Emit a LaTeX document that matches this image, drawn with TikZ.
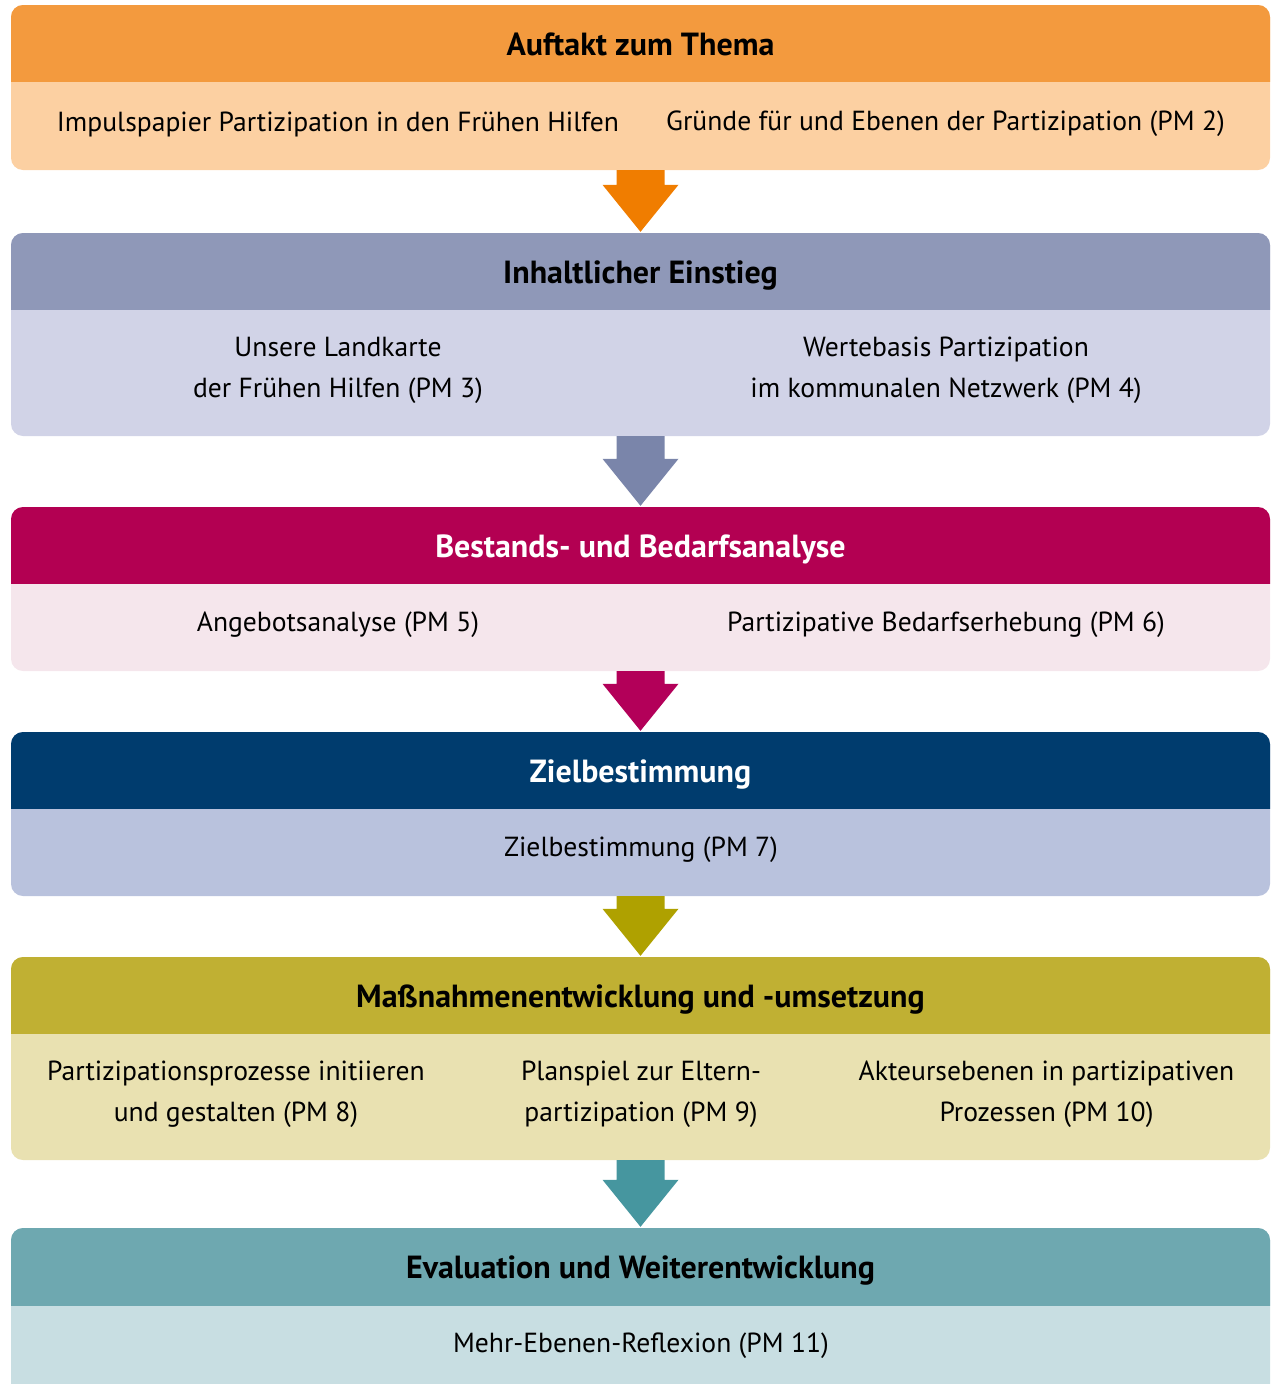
\documentclass[tikz,border=0pt]{standalone}
\usepackage{fontspec}
\setmainfont{PT Sans}
\usetikzlibrary{calc}
\definecolor{hA}{HTML}{F39A3E}\definecolor{bA}{HTML}{FCD0A2}\definecolor{aA}{HTML}{F07D00}
\definecolor{hB}{HTML}{8F98B8}\definecolor{bB}{HTML}{D1D3E7}\definecolor{aB}{HTML}{7A85AA}
\definecolor{hC}{HTML}{B30052}\definecolor{bC}{HTML}{F5E6EC}\definecolor{aC}{HTML}{B30059}
\definecolor{hD}{HTML}{003C6E}\definecolor{bD}{HTML}{B9C2DD}\definecolor{aD}{HTML}{AFA100}
\definecolor{hE}{HTML}{C0B033}\definecolor{bE}{HTML}{E9E1B1}\definecolor{aE}{HTML}{46969F}
\definecolor{hF}{HTML}{6EA8B0}\definecolor{bF}{HTML}{C8DEE2}
\tikzset{
  boxbody/.style={rectangle, rounded corners=12pt, inner sep=0pt, minimum width=1259pt},
  hdrtext/.style={font=\fontsize{32}{38}\selectfont\bfseries, inner sep=0pt, anchor=base},
  bodytext/.style={font=\fontsize{27.6}{41}\selectfont, align=center, inner sep=0pt, yshift=-3pt},
}
% #1 name, #2 top, #3 header bottom, #4 bottom, #5 header colour, #6 body colour, #7 title, #8 title colour
\newcommand{\stagebox}[8]{%
  \node[boxbody, fill=#6, minimum height={#4-#2}] (#1) at (640.5,{(#2+#4)/2}) {};
  \begin{scope}
    \clip (0,#2) rectangle (1271,#3);
    \fill[#5, rounded corners=12pt] (11,#2) rectangle (1270,#4);
  \end{scope}
  \node[hdrtext, text=#8] (#1h) at (640.5,{(#2+#3)/2+12}) {#7};
}
\newcommand{\stagearrow}[3]{%
  \fill[#3] let \p1=(#1.south), \p2=(#2.north) in
    (\x1-24pt,\y1) -- (\x1+24pt,\y1) -- (\x1+24pt,\y2+48pt) -- (\x1+38pt,\y2+48pt)
    -- (\x2,\y2+1pt) -- (\x1-38pt,\y2+48pt) -- (\x1-24pt,\y2+48pt) -- cycle;
}
\begin{document}
\begin{tikzpicture}[x=1pt,y=-1pt]
\useasboundingbox (0,0) rectangle (1271,1384);
\begin{scope}
\clip (0,0) rectangle (1271,1384);
\stagebox{s1}{5}{81}{170}{hA}{bA}{Auftakt zum Thema}{black}
\stagebox{s2}{233}{309}{436}{hB}{bB}{Inhaltlicher Einstieg}{black}
\stagebox{s3}{507}{583}{671}{hC}{bC}{Bestands- und Bedarfsanalyse}{white}
\stagebox{s4}{732}{808}{896}{hD}{bD}{Zielbestimmung}{white}
\stagebox{s5}{957}{1033}{1160}{hE}{bE}{Maßnahmenentwicklung und -umsetzung}{black}
\stagebox{s6}{1228}{1305}{1396}{hF}{bF}{Evaluation und Weiterentwicklung}{black}
\end{scope}

\node[bodytext] (t1a) at (338,121) {Impulspapier Partizipation in den Frühen Hilfen};
\node[bodytext] (t1b) at (945.5,121) {Gründe für und Ebenen der Partizipation (PM 2)};
\node[bodytext] (t2a) at (338,367.5) {Unsere Landkarte\\der Frühen Hilfen (PM 3)};
\node[bodytext] (t2b) at (946,367.5) {Wertebasis Partizipation\\im kommunalen Netzwerk (PM 4)};
\node[bodytext] (t3a) at (338,622) {Angebotsanalyse (PM 5)};
\node[bodytext] (t3b) at (946,622) {Partizipative Bedarfserhebung (PM 6)};
\node[bodytext] (t4) at (641,847) {Zielbestimmung (PM 7)};
\node[bodytext] (t5a) at (236,1091.5) {Partizipationsprozesse initiieren\\und gestalten (PM 8)};
\node[bodytext] (t5b) at (641,1091.5) {Planspiel zur Eltern-\\partizipation (PM 9)};
\node[bodytext] (t5c) at (1046.5,1091.5) {Akteursebenen in partizipativen\\Prozessen (PM 10)};
\node[bodytext] (t6) at (641,1343) {Mehr-Ebenen-Reflexion (PM 11)};

\stagearrow{s1}{s2}{aA}
\stagearrow{s2}{s3}{aB}
\stagearrow{s3}{s4}{aC}
\stagearrow{s4}{s5}{aD}
\stagearrow{s5}{s6}{aE}
\end{tikzpicture}
\end{document}
